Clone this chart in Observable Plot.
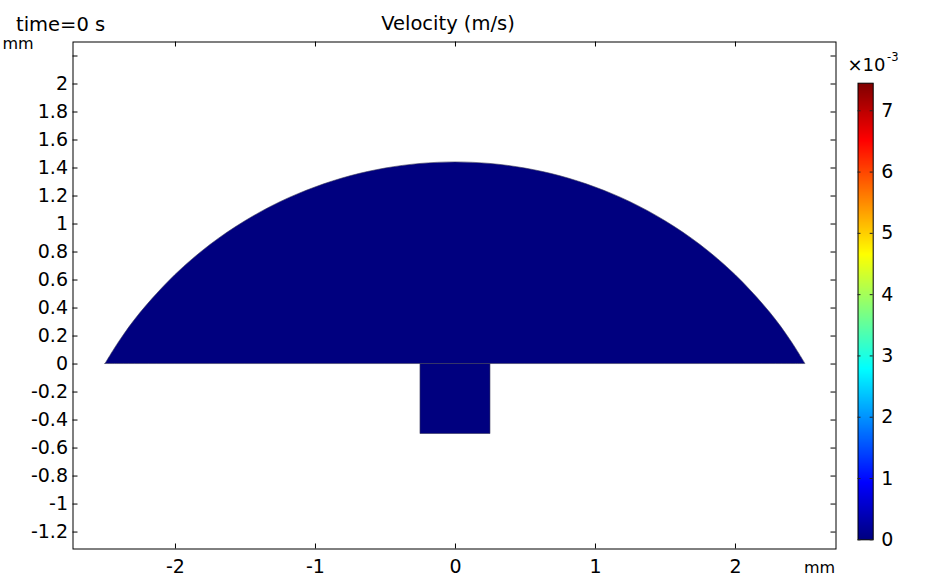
<!DOCTYPE html>
<html><head><meta charset="utf-8">
<script src="https://cdn.jsdelivr.net/npm/d3@7"></script>
<script src="https://cdn.jsdelivr.net/npm/@observablehq/plot@0.6"></script>
<style>
body{margin:0;background:#fff;}
#wrap{position:relative;width:948px;height:578px;}
#wrap svg{position:absolute;left:0;top:0;}
</style></head><body><div id="wrap"></div>
<script>
// ---- data ----
const xTicks = [-2, -1, 0, 1, 2];
const yTicks = [-1.2, -1, -0.8, -0.6, -0.4, -0.2, 0, 0.2, 0.4, 0.6, 0.8, 1, 1.2, 1.4, 1.6, 1.8, 2, 2.2];
const yLabels = [-1.2, -1, -0.8, -0.6, -0.4, -0.2, 0, 0.2, 0.4, 0.6, 0.8, 1, 1.2, 1.4, 1.6, 1.8, 2];
const domeX = [-2.5, -2.4, -2.25, -2, -1.75, -1.5, -1.25, -1, -0.75, -0.5, -0.25, 0, 0.25, 0.5, 0.75, 1, 1.25, 1.5, 1.75, 2, 2.25, 2.4, 2.5];
const domeY = [0, 0.16, 0.364, 0.636, 0.85, 1.02, 1.156, 1.261, 1.341, 1.396, 1.429, 1.44, 1.429, 1.396, 1.341, 1.261, 1.156, 1.02, 0.85, 0.636, 0.364, 0.16, 0];
const stemX = [-0.25, 0.25];
const stemY = [-0.5, 0];
const velocity0 = 0;               // velocity at time = 0 s (m/s, ×10^-3)
const cbarTicks = [0, 1, 2, 3, 4, 5, 6, 7];
const cbarMax = 7.45;
const jetStops = [0, 0.125, 0.375, 0.625, 0.875, 1];
const jetColors = ["#00007f", "#0000ff", "#00ffff", "#ffff00", "#ff0000", "#7f0000"];
const xDomain = [-2.732, 2.718];
const yDomain = [-1.321, 2.3];

const dome = domeX.map((x, i) => ({x, y: domeY[i], v: velocity0}));
const jet = d3.scaleLinear().domain(jetStops).range(jetColors).interpolate(d3.interpolateRgb);
const colorOpts = {type: "linear", domain: [0, cbarMax], interpolate: t => jet(t)};

const W = 948, H = 578;
const mL = 72.5, mR = 112.5, mT = 41.5, mB = 29.5;
const pw = W - mL - mR, ph = H - mT - mB;
const font = "DejaVu Sans";

const main = Plot.plot({
  width: W, height: H,
  marginLeft: mL, marginRight: mR, marginTop: mT, marginBottom: mB,
  style: {fontFamily: font, fontSize: "19px", color: "black", background: "white"},
  x: {domain: xDomain},
  y: {domain: yDomain},
  color: colorOpts,
  marks: [
    Plot.areaY(dome, {x: "x", y: "y", fill: "v", stroke: "#3a3a5a", strokeWidth: 0.6, curve: "catmull-rom"}),
    Plot.rect([{v: velocity0}], {x1: () => stemX[0], x2: () => stemX[1], y1: () => stemY[0], y2: () => stemY[1], fill: "v", stroke: "#3a3a5a", strokeWidth: 0.6}),
    Plot.frame({stroke: "black"}),
    Plot.tickX(xTicks, {x: d => d, insetTop: ph - 5, stroke: "black"}),
    Plot.tickX(xTicks, {x: d => d, insetBottom: ph - 5, stroke: "black"}),
    Plot.tickY(yTicks, {y: d => d, insetRight: pw - 5, stroke: "black"}),
    Plot.tickY(yTicks, {y: d => d, insetLeft: pw - 5, stroke: "black"}),
    Plot.axisX(xTicks, {anchor: "bottom", tickSize: 0, tickPadding: 10, tickFormat: d => String(d), label: null, fontSize: 19}),
    Plot.axisY(yLabels, {anchor: "left", tickSize: 0, tickPadding: 5, tickFormat: d => String(d), label: null, fontSize: 19})
  ]
});

const bL = 857.5, bR = 872.7, bT = 82.7, bB = 539.3;
const bw = bR - bL;
const cbar = Plot.plot({
  width: W, height: H,
  marginLeft: bL, marginRight: W - bR, marginTop: bT, marginBottom: H - bB,
  style: {fontFamily: font, fontSize: "19px", color: "black", background: "transparent"},
  x: {domain: [0, 1], axis: null},
  y: {domain: [0, cbarMax], axis: null},
  color: colorOpts,
  marks: [
    Plot.raster({x1: 0, x2: 1, y1: 0, y2: cbarMax, width: 1, height: 300, fill: (x, y) => y, imageRendering: "auto"}),
    Plot.frame({stroke: "black"}),
    Plot.tickY(cbarTicks, {y: d => d, insetRight: bw - 3, stroke: "#222"}),
    Plot.tickY(cbarTicks, {y: d => d, insetLeft: bw - 3, stroke: "#222"}),
    Plot.axisY(cbarTicks, {anchor: "right", tickSize: 0, tickPadding: 8, tickFormat: d => String(d), label: null, fontSize: 19})
  ]
});

document.getElementById("wrap").append(main, cbar);

const s = d3.select(cbar);
const addText = (x, y, txt, size, anchor = "start") =>
  s.append("text").attr("x", x).attr("y", y).attr("font-family", font).attr("font-size", size)
   .attr("text-anchor", anchor).attr("fill", "black").text(txt);
addText(16, 31, "time=0 s", 19.5);
addText(448, 30, "Velocity (m/s)", 19.5, "middle");
addText(2.5, 49, "mm", 16);
addText(804, 573, "mm", 16);
const mult = s.append("text").attr("x", 873).attr("y", 70.5).attr("font-family", font).attr("font-size", 18).attr("fill", "black");
mult.append("tspan").text("×10");
mult.append("tspan").attr("font-size", 11.5).attr("dy", -9.5).attr("dx", 1.5).text("-3");
</script></body></html>
